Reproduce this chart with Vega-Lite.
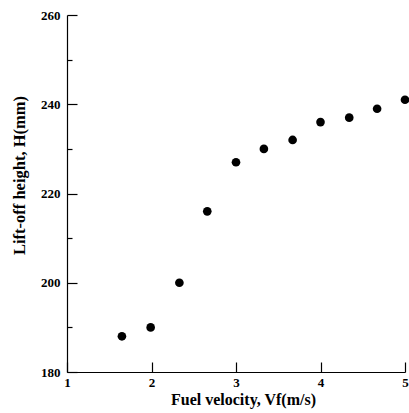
{
  "$schema": "https://vega.github.io/schema/vega-lite/v6.json",
  "autosize": "none",
  "width": 338,
  "height": 357,
  "padding": {"left": 67, "top": 15, "right": 4, "bottom": 41},
  "background": "white",
  "config": {"view": {"stroke": null}},
  "data": {"values": [
    {"vf": 1.65, "h": 188},
    {"vf": 1.99, "h": 190},
    {"vf": 2.33, "h": 200},
    {"vf": 2.66, "h": 216},
    {"vf": 3.0, "h": 227},
    {"vf": 3.33, "h": 230},
    {"vf": 3.67, "h": 232},
    {"vf": 4.0, "h": 236},
    {"vf": 4.34, "h": 237},
    {"vf": 4.67, "h": 239},
    {"vf": 5.0, "h": 241}
  ]},
  "mark": {"type": "point", "filled": true, "color": "black", "opacity": 1, "size": 75},
  "encoding": {
    "x": {
      "field": "vf", "type": "quantitative",
      "scale": {"domain": [1, 5], "nice": false, "zero": false},
      "axis": {
        "title": "Fuel velocity, Vf(m/s)",
        "values": [1, 1.5, 2, 2.5, 3, 3.5, 4, 4.5, 5],
        "format": "d",
        "labelExpr": "datum.value % 1 === 0 ? datum.label : ''",
        "grid": false,
        "domainColor": "black", "domainWidth": 1.2,
        "tickColor": "black", "tickWidth": 1.2,
        "tickSize": {"condition": {"test": "datum.value % 1 === 0", "value": -10}, "value": -5},
        "labelFont": "Liberation Serif", "labelFontWeight": "bold", "labelFontSize": 13, "labelColor": "black",
        "labelPadding": 14, "labelFlush": false,
        "titleFont": "Liberation Serif", "titleFontWeight": "bold", "titleFontSize": 16, "titleColor": "black",
        "titlePadding": 2, "titleX": 176
      }
    },
    "y": {
      "field": "h", "type": "quantitative",
      "scale": {"domain": [180, 260], "nice": false, "zero": false},
      "axis": {
        "title": "Lift-off height, H(mm)",
        "values": [180, 190, 200, 210, 220, 230, 240, 250, 260],
        "labelExpr": "datum.value % 20 === 0 ? datum.label : ''",
        "grid": false,
        "domainColor": "black", "domainWidth": 1.2,
        "tickColor": "black", "tickWidth": 1.2,
        "tickSize": {"condition": {"test": "datum.value % 20 === 0", "value": -10}, "value": -5},
        "labelFont": "Liberation Serif", "labelFontWeight": "bold", "labelFontSize": 13, "labelColor": "black",
        "labelPadding": 17, "labelFlush": false,
        "titleFont": "Liberation Serif", "titleFontWeight": "bold", "titleFontSize": 16.5, "titleColor": "black",
        "titlePadding": 13, "titleY": 160
      }
    }
  }
}
